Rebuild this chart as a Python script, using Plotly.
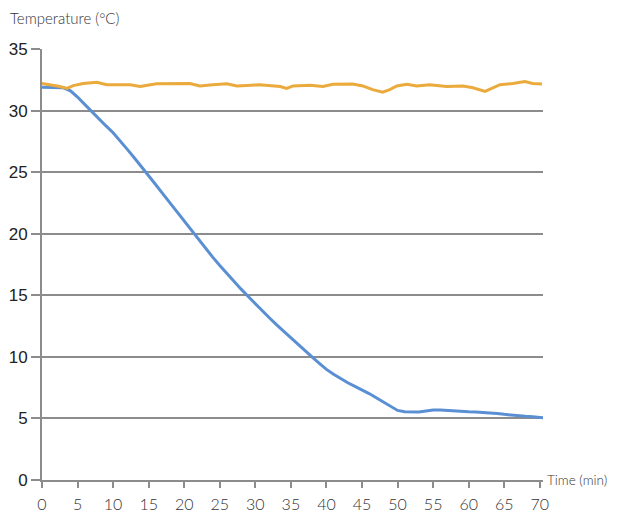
import plotly.graph_objects as go

# Cooling curve (blue) and reference temperature (orange)
blue_time = [0, 2, 3, 4, 5, 6, 7, 8, 9, 10, 11, 12, 13, 14, 15, 16, 17, 18, 19, 20, 21, 22, 23, 24,
             25, 26, 27, 28, 29, 30, 31, 32, 33, 34, 35, 36, 37, 38, 39, 40, 41, 42, 43, 44, 45, 46,
             47, 48, 49, 50, 51, 52, 53, 54, 55, 56, 57, 58, 59, 60, 61, 62, 63, 64, 65, 66, 67, 68,
             69, 70, 70.5]
blue_temp = [31.9, 31.9, 31.85, 31.6, 31.1, 30.5, 29.9, 29.3, 28.75, 28.2, 27.55, 26.85, 26.15,
             25.45, 24.72, 23.98, 23.24, 22.5, 21.75, 21.0, 20.24, 19.5, 18.8, 18.1, 17.42, 16.75,
             16.1, 15.5, 14.9, 14.3, 13.72, 13.16, 12.6, 12.06, 11.54, 11.03, 10.5, 9.97, 9.47, 8.98,
             8.58, 8.22, 7.9, 7.6, 7.32, 7.02, 6.68, 6.32, 5.95, 5.65, 5.55, 5.52, 5.53, 5.6, 5.68,
             5.68, 5.63, 5.6, 5.57, 5.54, 5.52, 5.5, 5.46, 5.4, 5.33, 5.26, 5.21, 5.17, 5.13, 5.08,
             5.05]

orange_time = [0, 1.1, 2.5, 3.5, 4.4, 5.8, 7.7, 9.1, 12.4, 13.8, 16.1, 20.8, 22.2, 24, 26, 27.4,
               30.6, 33.5, 34.4, 35.3, 37.7, 39.5, 40.9, 43.7, 45.1, 46.5, 47.9, 48.9, 49.9, 51.3,
               52.7, 54.5, 56.9, 59.2, 60.6, 62.3, 64.4, 66.2, 67.9, 69, 70.3]
orange_temp = [32.2, 32.1, 31.95, 31.8, 32.03, 32.2, 32.3, 32.1, 32.1, 31.95, 32.17, 32.2, 32.0, 32.1,
               32.17, 32.0, 32.1, 31.95, 31.8, 32.0, 32.05, 31.95, 32.14, 32.15, 32.0, 31.7, 31.5,
               31.7, 32.0, 32.14, 32.0, 32.1, 31.95, 32.0, 31.85, 31.55, 32.1, 32.2, 32.35, 32.2, 32.15]

x_ticks = list(range(0, 75, 5))
y_ticks = list(range(0, 40, 5))

fig = go.Figure()
fig.add_trace(go.Scatter(x=blue_time, y=blue_temp, mode="lines",
                         line=dict(color="#5a8fd3", width=3),
                         hoverinfo="skip", showlegend=False))
fig.add_trace(go.Scatter(x=orange_time, y=orange_temp, mode="lines",
                         line=dict(color="#eaaa3c", width=3),
                         hoverinfo="skip", showlegend=False))

fig.update_layout(
    width=612, height=504,
    margin=dict(l=34, r=77, t=41, b=32, autoexpand=False),
    paper_bgcolor="white", plot_bgcolor="white",
    xaxis=dict(range=[0, 70.45], tickvals=x_ticks, ticktext=[str(v) for v in x_ticks],
               automargin=False,
               showgrid=False, zeroline=False, showline=True, linecolor="#8c8c8c", linewidth=2,
               ticks="outside", ticklen=6, tickwidth=1.5, tickcolor="#8c8c8c",
               ticklabelstandoff=3,
               tickfont=dict(family="Lato", size=16, color="#333333", weight=300)),
    yaxis=dict(range=[0, 35], tickvals=y_ticks, ticktext=[str(v) for v in y_ticks],
               automargin=False,
               showgrid=True, gridcolor="#8c8c8c", gridwidth=1.5, zeroline=False,
               showline=True, linecolor="#8c8c8c", linewidth=2,
               ticks="outside", ticklen=9, tickwidth=1.5, tickcolor="#8c8c8c",
               tickfont=dict(family="Liberation Sans", size=17, color="#222222")),
    annotations=[
        dict(text="Temperature (°C)", xref="paper", yref="paper", x=-0.068, y=1.072,
             xanchor="left", yanchor="middle", showarrow=False,
             font=dict(family="Lato", size=15, color="#333333", weight=300)),
        dict(text="Time (min)", xref="paper", yref="paper", x=1.004, y=0.0,
             xanchor="left", yanchor="middle", showarrow=False,
             font=dict(family="Lato", size=13.5, color="#333333", weight=300)),
    ],
)

fig.write_html("out.html")
